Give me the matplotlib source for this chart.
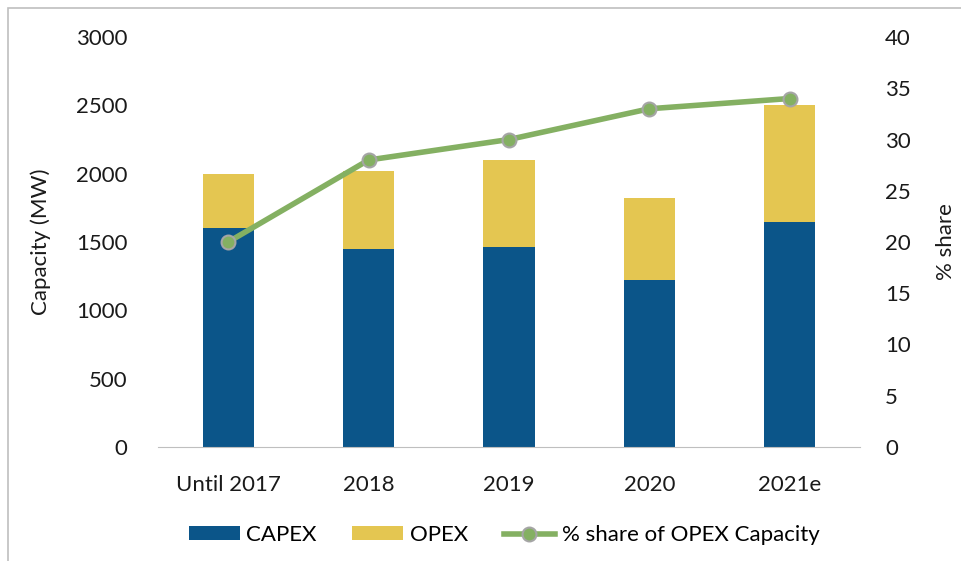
import matplotlib
matplotlib.use("Agg")
import matplotlib.pyplot as plt
from matplotlib.patches import Rectangle
import numpy as np

categories = ["Until 2017", "2018", "2019", "2020", "2021e"]
capex = [1600, 1450, 1465, 1220, 1650]
opex = [400, 570, 635, 600, 850]
share = [20, 28, 30, 33, 34]

plt.rcParams['font.family'] = ['Lato', 'DejaVu Sans']

fig = plt.figure(figsize=(9.62, 5.61), dpi=100)
ax = fig.add_axes([158/962, 1 - 447/561, (860-158)/962, (447-37)/561])

x = np.arange(len(categories))
w = 0.365
c_capex = "#0B5589"
c_opex = "#E4C651"
c_line = "#84B062"
fs = 16

ax.bar(x, capex, w, color=c_capex, label="CAPEX", zorder=2)
ax.bar(x, opex, w, bottom=capex, color=c_opex, label="OPEX", zorder=2)
ax.set_xlim(-0.5, 4.5)
ax.set_ylim(0, 3000)
ax.set_yticks(range(0, 3001, 500))
ax.set_xticks(x)
ax.set_xticklabels(categories)
for s in ["top", "left", "right"]:
    ax.spines[s].set_visible(False)
ax.spines["bottom"].set_color("#BFBFBF")
ax.tick_params(axis="both", length=0, labelsize=fs, colors="#1a1a1a")
ax.tick_params(axis="y", pad=22)
ax.tick_params(axis="x", pad=20)
ax.set_ylabel("Capacity (MW)", fontsize=fs, color="#1a1a1a", labelpad=18)

ax2 = ax.twinx()
ax2.plot(x, share, color=c_line, lw=4, marker="o", ms=10, mfc=c_line,
         mec="#A5A5A5", mew=1.5, label="% share of OPEX Capacity", zorder=3)
ax2.set_ylim(0, 40)
ax2.set_yticks(range(0, 41, 5))
for s in ["top", "left", "right", "bottom"]:
    ax2.spines[s].set_visible(False)
ax2.tick_params(axis="y", length=0, labelsize=fs, colors="#1a1a1a", pad=18)
ax2.set_ylabel("% share", fontsize=fs, color="#1a1a1a", labelpad=18)

h1, l1 = ax.get_legend_handles_labels()
h2, l2 = ax2.get_legend_handles_labels()
fig.legend(h1 + h2, l1 + l2, loc="center", bbox_to_anchor=(504/962, 1 - 535/561),
           ncol=3, frameon=False, fontsize=fs, handlelength=2.3, handleheight=0.6,
           columnspacing=1.6, handletextpad=0.3)

fig.patches.append(Rectangle((8/962, -0.1), 1.2, 1 - 8/561 + 0.1, transform=fig.transFigure,
                             fill=False, edgecolor="#BFBFBF", lw=1.2))

fig.savefig("out.png", dpi=100)
